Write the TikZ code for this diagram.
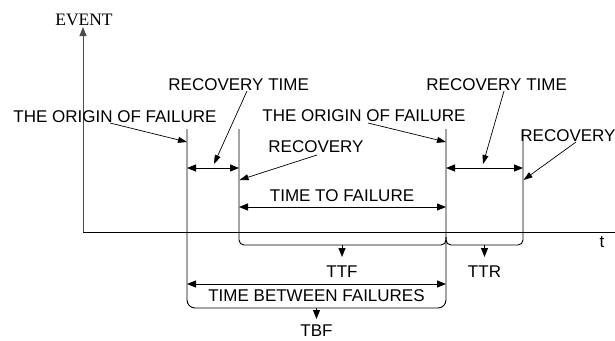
\documentclass[tikz,border=0pt]{standalone}
\usepackage{fontspec}
\setmainfont{Liberation Sans}
\newfontfamily\evserif{Liberation Serif}
\usetikzlibrary{arrows.meta}
\begin{document}
\begin{tikzpicture}[x=1pt,y=-1pt,
  line width=0.9pt,
  tip/.style={-{Triangle[length=9pt,width=7pt]}},
  span/.style={{Triangle[length=9pt,width=7pt]}-{Triangle[length=9pt,width=7pt]}},
  txt/.style={inner sep=0pt,font=\fontsize{17}{20}\selectfont},
  lead/.style={line width=0.7pt,-{Triangle[length=9pt,width=6pt]}}]
\useasboundingbox (0,0) rectangle (615,340);

% axes
\coordinate (O) at (83,232);
\coordinate (ytop) at (83,27);
\coordinate (xend) at (615,232);
\draw[tip,line width=1pt,black!70] (O) -- (ytop);
\draw (O) -- (xend);
\node[inner sep=0pt,font=\evserif\fontsize{17.5}{20}\selectfont,anchor=base] (ev) at (84,25) {EVENT};
\node[txt,anchor=base] (tl) at (602,247) {t};

% time marks
\coordinate (a1) at (187,129);
\coordinate (a2) at (239,129);
\coordinate (a3) at (446,129);
\coordinate (a4) at (523,129);

% TBF bracket with the outer marks
\draw[rounded corners=8pt] (a1) -- (187,308) -- (446,308) -- (a3);
% TTF bracket
\draw[rounded corners=5pt] (a2) -- (239,245) -- (446,245) -- (446,237);
% TTR bracket
\draw[rounded corners=5pt] (446,237) -- (446,245) -- (523,245) -- (a4);

% bracket pointers
\coordinate (ttfb) at (342,245);
\coordinate (ttrb) at (484.5,245);
\coordinate (tbfb) at (316.5,308);
\node[txt,anchor=base] (ttf) at (342,277) {TTF};
\node[txt,anchor=base] (ttr) at (484.5,277) {TTR};
\node[txt,anchor=base] (tbf) at (316.5,336.5) {TBF};
\draw[tip] (ttfb) -- (342,257);
\draw[tip] (ttrb) -- (484.5,257);
\draw[tip] (tbfb) -- (316.5,319);

% spans
\coordinate (r1a) at (187,168); \coordinate (r1b) at (239,168);
\coordinate (r2a) at (446,168); \coordinate (r2b) at (523,168);
\coordinate (fa) at (239,207); \coordinate (fb) at (446,207);
\coordinate (ba) at (187,284); \coordinate (bb) at (446,284);
\draw[span] (r1a) -- (r1b);
\draw[span] (r2a) -- (r2b);
\draw[span] (fa) -- (fb);
\draw[span] (ba) -- (bb);
\node[txt,anchor=base] (ttfl) at (342,201) {TIME TO FAILURE};
\node[txt,anchor=base] (tbfl) at (316.5,301) {TIME BETWEEN FAILURES};

% labels with leaders
\node[txt,anchor=base west] (of1) at (13,122) {THE ORIGIN OF FAILURE};
\node[txt,anchor=base west] (rt1) at (168,90) {RECOVERY TIME};
\node[txt,anchor=base west] (of2) at (262,121) {THE ORIGIN OF FAILURE};
\node[txt,anchor=base west] (rc1) at (268,152) {RECOVERY};
\node[txt,anchor=base west] (rt2) at (426,90) {RECOVERY TIME};
\node[txt,anchor=base west] (rc2) at (520,141) {RECOVERY};

\coordinate (of1s) at (110,123); \coordinate (of1t) at (187,142);
\coordinate (rt1s) at (247,91);  \coordinate (rt1t) at (214,164);
\coordinate (of2s) at (368,123); \coordinate (of2t) at (446,142);
\coordinate (rc1s) at (317,155); \coordinate (rc1t) at (239.5,180);
\coordinate (rt2s) at (504,91);  \coordinate (rt2t) at (483,164);
\coordinate (rc2s) at (576,142); \coordinate (rc2t) at (523.5,180);
\draw[lead] (of1s) -- (of1t);
\draw[lead] (rt1s) -- (rt1t);
\draw[lead] (of2s) -- (of2t);
\draw[lead] (rc1s) -- (rc1t);
\draw[lead] (rt2s) -- (rt2t);
\draw[lead] (rc2s) -- (rc2t);
\end{tikzpicture}
\end{document}
